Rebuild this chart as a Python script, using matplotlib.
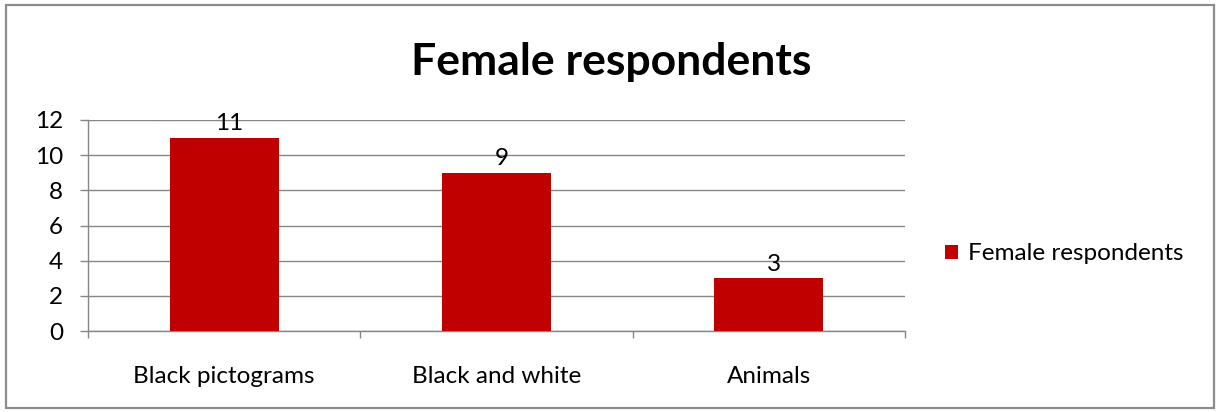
import matplotlib.pyplot as plt
from matplotlib.patches import Rectangle

categories = ['Black pictograms', 'Black and white', 'Animals']
values = [11, 9, 3]
series_name = 'Female respondents'
yticks = [0, 2, 4, 6, 8, 10, 12]

plt.rcParams['font.family'] = ['Lato', 'DejaVu Sans']
fs = 17.5

fig = plt.figure(figsize=(12.18, 4.12), dpi=100)
ax = fig.add_axes([88 / 1218, 1 - 331 / 412, (905 - 88) / 1218, (331 - 120) / 412])

bars = ax.bar(range(len(categories)), values, width=0.4, color='#C00000', label=series_name, zorder=3)
for b, v in zip(bars, values):
    ax.text(b.get_x() + b.get_width() / 2 + 0.02, v + 0.2, str(v), ha='center', va='bottom', fontsize=fs)

ax.set_xlim(-0.5, len(categories) - 0.5)
ax.set_ylim(0, 12)
ax.set_yticks(yticks)
ax.set_yticklabels([str(t) for t in yticks], fontsize=fs)
ax.set_xticks(range(len(categories)))
ax.set_xticklabels(categories, fontsize=fs)
ax.set_xticks([i - 0.5 for i in range(len(categories) + 1)], minor=True)

ax.tick_params(axis='x', which='major', length=0, pad=25)
ax.tick_params(axis='x', which='minor', length=5, width=1, color='#868686', direction='out')
ax.tick_params(axis='y', length=6, width=1, color='#868686', pad=12)

ax.yaxis.grid(True, color='#868686', linewidth=1, zorder=0)
for side in ['top', 'right']:
    ax.spines[side].set_visible(False)
for side in ['left', 'bottom']:
    ax.spines[side].set_color('#868686')
    ax.spines[side].set_linewidth(1)

fig.text(611 / 1218, 1 - 62 / 412, series_name, ha='center', va='center', fontsize=32, fontweight='bold')

fig.legend(handles=[bars], labels=[series_name], loc='center left',
           bbox_to_anchor=(945 / 1218, 1 - 254 / 412), frameon=False, fontsize=fs,
           borderpad=0, borderaxespad=0,
           handlelength=0.55, handleheight=0.55, handletextpad=0.4)

fig.patches.append(Rectangle((6 / 1218, 4 / 412), 1208 / 1218, 403 / 412, transform=fig.transFigure,
                             fill=False, edgecolor='#8c8c8c', linewidth=1.6))

fig.savefig('out.png', dpi=100)
